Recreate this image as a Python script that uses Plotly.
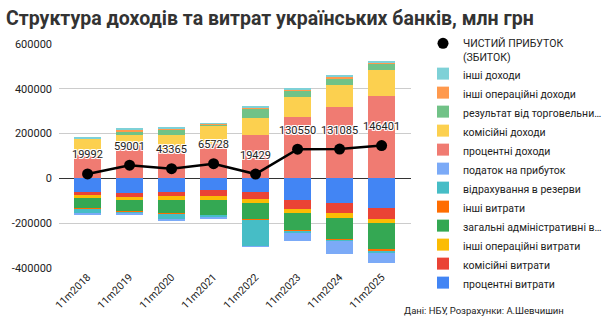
import plotly.graph_objects as go

categories = ["11m2018", "11m2019", "11m2020", "11m2021", "11m2022", "11m2023", "11m2024", "11m2025"]

# expenses (negative, stacked downward from zero)
interest_exp = [-62000, -67000, -59000, -50000, -60000, -98000, -109000, -130000]
commission_exp = [-12000, -14000, -19000, -30000, -34000, -37000, -44000, -49000]
other_oper_exp = [-15000, -14000, -18000, -15000, -18000, -19000, -22000, -22000]
admin_exp = [-44000, -53000, -59000, -70000, -70000, -77000, -96000, -115000]
other_exp = [-2000, -2000, -6000, -2000, -4000, -6000, -5000, -9000]
provisions = [-22000, -7000, -24000, -4000, -117000, -6000, -5000, -9000]
profit_tax = [-7000, -7000, -3000, -11000, -3000, -36000, -55000, -44000]

# income (positive, stacked upward from zero)
interest_inc = [106000, 146000, 133000, 155000, 192000, 274000, 318000, 370000]
commission_inc = [71000, 50000, 59000, 81000, 79000, 89000, 99000, 114000]
trading_res = [2000, 15000, 27000, 5000, 43000, 30000, 31000, 27000]
other_oper_inc = [1000, 6000, 4000, 2000, 4000, 6000, 7000, 5000]
other_inc = [1000, 4000, 3000, 2000, 3000, 6000, 6000, 5000]

net_profit = [19992, 59001, 43365, 65728, 19429, 130550, 131085, 146401]

y_ticks = [-400000, -200000, 0, 200000, 400000, 600000]
y_tick_text = ["-400000", "-200000", "0", "200000", "400000", "600000"]

series = [
    ("процентні витрати", interest_exp, "#4285F4"),
    ("комісійні витрати", commission_exp, "#EA4335"),
    ("інші операційні витрати", other_oper_exp, "#FBBC04"),
    ("загальні адміністративні в…", admin_exp, "#34A853"),
    ("інші витрати", other_exp, "#FF6D01"),
    ("відрахування в резерви", provisions, "#46BDC6"),
    ("податок на прибуток", profit_tax, "#7BAAF7"),
    ("процентні доходи", interest_inc, "#F07B72"),
    ("комісійні доходи", commission_inc, "#FCD04F"),
    ("результат від торговельни…", trading_res, "#71C287"),
    ("інші операційні доходи", other_oper_inc, "#FF994D"),
    ("інші доходи", other_inc, "#7ED1D7"),
]

FONT = "Roboto, Arial, sans-serif"

fig = go.Figure()
for i, (name, vals, color) in enumerate(series):
    fig.add_trace(go.Bar(
        x=categories, y=vals, name=name, marker_color=color,
        marker_line_width=0, width=0.655, legendgroup=f"g{i}",
        hoverinfo="skip",
    ))

fig.add_trace(go.Scatter(
    x=categories, y=net_profit, mode="lines+markers", showlegend=False,
    line=dict(color="black", width=2.5), marker=dict(color="black", size=11),
))
fig.add_trace(go.Scatter(
    x=[None], y=[None], mode="markers", name="ЧИСТИЙ ПРИБУТОК<br>(ЗБИТОК)",
    marker=dict(color="black", size=11), legendgroup="gline",
))

halo = "-1px -1px 0 #fff, 1px -1px 0 #fff, -1px 1px 0 #fff, 1px 1px 0 #fff, 0 1px 0 #fff, 0 -1px 0 #fff"
for c, v in zip(categories, net_profit):
    fig.add_annotation(
        x=c, y=v, xref="x", yref="y", text=str(v), showarrow=False,
        yshift=19, font=dict(family=FONT, size=11, color="#222", shadow=halo),
    )

fig.add_annotation(
    text="Дані: НБУ, Розрахунки: А.Шевчишин", xref="paper", yref="paper",
    x=(590 - 56) / 371, y=-(313 - 270) / 226, xanchor="right", yanchor="middle",
    showarrow=False, font=dict(family=FONT, size=9.5, color="#222"),
)

fig.update_layout(
    width=605, height=324,
    margin=dict(l=56, r=178, t=44, b=54),
    paper_bgcolor="white", plot_bgcolor="white",
    barmode="relative", bargap=0,
    font=dict(family=FONT, color="#222", size=11),
    title=dict(
        text="<b>Структура доходів та витрат українських банків, млн грн</b>",
        xref="container", yref="container", x=6 / 605, y=1 - 18 / 324,
        xanchor="left", yanchor="middle",
        font=dict(family=FONT, size=19.5, color="#333"),
    ),
    xaxis=dict(
        range=[-0.68, 7.7], tickangle=-45, showgrid=False, showline=False,
        ticks="", tickfont=dict(family=FONT, size=10.5, color="#222"),
    ),
    yaxis=dict(
        range=[-400000, 600000], tickvals=y_ticks, ticktext=y_tick_text,
        showgrid=True, gridcolor="#cccccc", gridwidth=1,
        zeroline=True, zerolinecolor="#333333", zerolinewidth=1,
        ticks="", ticklabelstandoff=6,
        tickfont=dict(family=FONT, size=11, color="#222"),
    ),
    legend=dict(
        traceorder="reversed", xref="container", yref="container",
        x=423 / 605, y=1 - 30 / 324, xanchor="left", yanchor="top",
        valign="top", font=dict(family=FONT, size=10.5, color="#222"),
        tracegroupgap=3.7, bgcolor="rgba(0,0,0,0)", maxheight=320,
    ),
    hovermode=False,
)

fig.write_html("out.html")
